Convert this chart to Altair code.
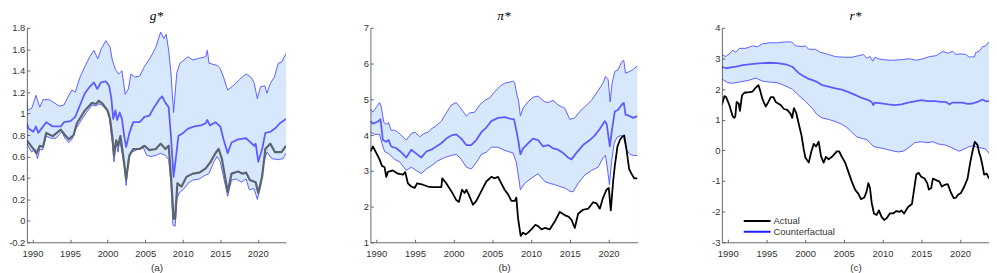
import altair as alt
import pandas as pd

XMIN, XMAX = 1989.25, 2023.75
YEAR_TICKS = [1990, 1995, 2000, 2005, 2010, 2015, 2020]

# ---------------- panel (a): g* ----------------
G_UP_X = [1989.25, 1989.34, 1989.90, 1990.46, 1990.97, 1991.40, 1992.26, 1993.55, 1994.19, 1994.83, 1995.26, 1995.69, 1996.33, 1996.98, 1997.62, 1998.18, 1998.69, 1999.12, 1999.77, 2000.32, 2000.62, 2001.05, 2001.48, 2001.91, 2002.34, 2002.77, 2003.11, 2003.63, 2004.27, 2004.91, 2005.77, 2006.42, 2007.06, 2007.49, 2007.79, 2008.13, 2008.43, 2008.78, 2009.21, 2009.63, 2010.71, 2011.35, 2012.42, 2013.06, 2013.28, 2013.49, 2014.57, 2015.00, 2015.43, 2015.98, 2016.71, 2017.57, 2018.43, 2019.07, 2019.50, 2019.93, 2020.36, 2020.92, 2021.22, 2021.65, 2022.20, 2022.72, 2023.15, 2023.75]
G_UP_Y = [1.13, 1.03, 1.05, 1.17, 1.06, 1.13, 1.13, 1.07, 1.08, 1.17, 1.22, 1.20, 1.34, 1.44, 1.53, 1.59, 1.51, 1.60, 1.68, 1.62, 1.50, 1.41, 1.37, 1.40, 1.18, 1.23, 1.37, 1.34, 1.35, 1.44, 1.53, 1.62, 1.76, 1.70, 1.74, 1.59, 1.38, 1.01, 1.38, 1.47, 1.53, 1.50, 1.52, 1.53, 1.59, 1.47, 1.45, 1.42, 1.34, 1.22, 1.26, 1.32, 1.37, 1.34, 1.29, 1.14, 1.25, 1.26, 1.19, 1.28, 1.34, 1.47, 1.48, 1.56]
G_MED_X = [1989.25, 1989.47, 1990.11, 1990.46, 1990.76, 1991.19, 1991.83, 1992.69, 1993.76, 1994.19, 1995.05, 1995.69, 1996.33, 1996.98, 1997.62, 1998.18, 1998.61, 1999.12, 1999.77, 2000.20, 2000.50, 2000.75, 2001.05, 2001.27, 2001.61, 2001.91, 2002.21, 2002.47, 2002.90, 2003.41, 2004.27, 2004.91, 2005.56, 2006.20, 2006.85, 2007.27, 2007.70, 2008.13, 2008.43, 2008.78, 2009.08, 2009.42, 2010.06, 2010.71, 2011.56, 2012.42, 2013.06, 2013.28, 2013.62, 2014.35, 2015.00, 2015.43, 2015.98, 2016.50, 2017.36, 2018.43, 2019.07, 2019.50, 2019.71, 2020.06, 2020.57, 2021.00, 2021.65, 2022.29, 2022.93, 2023.75]
G_MED_Y = [0.91, 0.86, 0.83, 0.88, 0.82, 0.86, 0.92, 0.88, 0.88, 0.92, 0.93, 0.97, 1.08, 1.19, 1.25, 1.29, 1.23, 1.29, 1.30, 1.26, 1.14, 0.95, 1.03, 0.94, 1.01, 0.95, 0.79, 0.69, 0.82, 0.92, 0.92, 0.97, 0.98, 1.06, 1.13, 1.16, 1.10, 1.06, 0.79, 0.41, 0.58, 0.79, 0.82, 0.86, 0.88, 0.89, 0.91, 0.94, 0.89, 0.92, 0.88, 0.76, 0.63, 0.73, 0.76, 0.77, 0.73, 0.70, 0.72, 0.55, 0.67, 0.82, 0.83, 0.86, 0.91, 0.95]
G_LO_X = [1989.25, 1989.47, 1989.90, 1990.33, 1990.67, 1990.97, 1991.32, 1991.83, 1992.47, 1993.12, 1993.89, 1994.32, 1994.83, 1995.26, 1995.69, 1996.33, 1997.19, 1997.92, 1998.48, 1998.82, 1999.21, 1999.77, 2000.20, 2000.50, 2000.71, 2000.84, 2001.14, 2001.40, 2001.61, 2001.91, 2002.21, 2002.47, 2002.77, 2003.20, 2003.84, 2004.70, 2005.21, 2005.77, 2006.42, 2007.06, 2007.70, 2008.13, 2008.47, 2008.69, 2008.99, 2009.21, 2009.51, 2010.06, 2010.71, 2011.35, 2012.21, 2012.85, 2013.49, 2014.14, 2014.57, 2015.00, 2015.43, 2015.98, 2016.50, 2017.14, 2017.79, 2018.43, 2018.86, 2019.50, 2019.93, 2020.36, 2020.79, 2021.22, 2021.86, 2022.72, 2023.36, 2023.75]
G_LO_Y = [0.72, 0.69, 0.64, 0.67, 0.58, 0.67, 0.66, 0.79, 0.77, 0.77, 0.83, 0.77, 0.73, 0.76, 0.85, 0.92, 1.01, 1.08, 1.07, 1.09, 1.08, 1.04, 1.00, 0.79, 0.70, 0.55, 0.72, 0.64, 0.76, 0.64, 0.52, 0.33, 0.58, 0.64, 0.66, 0.69, 0.61, 0.60, 0.61, 0.63, 0.61, 0.57, 0.32, -0.04, -0.05, 0.20, 0.26, 0.29, 0.35, 0.38, 0.39, 0.42, 0.44, 0.55, 0.60, 0.55, 0.41, 0.23, 0.38, 0.39, 0.36, 0.39, 0.29, 0.30, 0.20, 0.32, 0.55, 0.64, 0.58, 0.57, 0.58, 0.63]
G_ACT_X = [1989.25, 1989.90, 1990.54, 1990.97, 1991.40, 1991.83, 1992.69, 1993.76, 1994.32, 1994.83, 1995.48, 1995.91, 1996.98, 1997.92, 1998.48, 1998.82, 1999.34, 1999.98, 2000.32, 2000.62, 2000.84, 2001.14, 2001.40, 2001.70, 2001.95, 2002.47, 2002.90, 2003.41, 2004.27, 2004.91, 2005.56, 2006.42, 2007.06, 2007.70, 2008.13, 2008.47, 2008.78, 2008.99, 2009.29, 2009.85, 2010.49, 2011.35, 2012.21, 2013.06, 2013.71, 2014.35, 2014.78, 2015.21, 2015.98, 2016.50, 2017.36, 2017.99, 2018.43, 2018.94, 2019.71, 2020.06, 2020.57, 2021.00, 2021.65, 2022.29, 2023.15, 2023.75]
G_ACT_Y = [0.75, 0.69, 0.63, 0.70, 0.69, 0.82, 0.79, 0.85, 0.80, 0.76, 0.80, 0.91, 1.03, 1.10, 1.09, 1.12, 1.09, 1.03, 0.95, 0.79, 0.61, 0.75, 0.70, 0.79, 0.67, 0.39, 0.61, 0.67, 0.67, 0.70, 0.66, 0.67, 0.72, 0.67, 0.70, 0.38, 0.02, 0.02, 0.35, 0.32, 0.41, 0.44, 0.45, 0.49, 0.55, 0.63, 0.67, 0.58, 0.27, 0.44, 0.46, 0.44, 0.45, 0.38, 0.36, 0.26, 0.41, 0.67, 0.72, 0.64, 0.64, 0.70]

# ---------------- panel (b): pi* ----------------
P_UP_X = [1989.25, 1989.57, 1990.22, 1990.43, 1990.65, 1990.99, 1991.29, 1991.59, 1991.94, 1992.37, 1993.02, 1993.45, 1993.88, 1994.53, 1995.04, 1995.60, 1996.16, 1996.68, 1997.11, 1997.76, 1998.41, 1999.05, 1999.70, 2000.34, 2000.78, 2001.21, 2001.64, 2002.07, 2002.72, 2003.36, 2004.01, 2004.66, 2005.30, 2005.95, 2006.59, 2007.24, 2007.67, 2007.89, 2008.10, 2008.41, 2008.62, 2008.97, 2009.61, 2010.26, 2010.91, 2011.77, 2012.20, 2012.84, 2013.49, 2014.35, 2015.00, 2015.65, 2016.29, 2016.94, 2017.80, 2018.66, 2019.31, 2019.61, 2019.96, 2020.22, 2020.47, 2020.82, 2021.25, 2021.68, 2021.98, 2022.20, 2022.76, 2023.19, 2023.75]
P_UP_Y = [4.73, 4.64, 4.84, 4.91, 4.79, 4.35, 4.30, 4.35, 4.13, 4.14, 4.04, 3.95, 3.86, 4.04, 4.08, 3.95, 4.04, 4.08, 4.17, 4.26, 4.39, 4.62, 4.84, 4.91, 4.79, 4.66, 4.53, 4.62, 4.64, 4.84, 4.97, 5.04, 5.21, 5.36, 5.45, 5.48, 5.51, 5.46, 5.20, 4.93, 4.53, 4.75, 4.93, 5.06, 5.09, 4.93, 4.91, 4.97, 4.84, 4.75, 4.44, 4.48, 4.66, 4.79, 4.97, 5.24, 5.46, 5.64, 5.55, 4.93, 5.46, 5.78, 5.82, 6.04, 6.09, 5.73, 5.78, 5.84, 5.93]
P_MED_X = [1989.25, 1989.57, 1990.22, 1990.56, 1990.86, 1991.29, 1991.59, 1991.94, 1992.59, 1993.23, 1993.88, 1994.53, 1995.17, 1995.82, 1996.47, 1997.11, 1997.76, 1998.41, 1999.05, 1999.70, 2000.34, 2000.99, 2001.64, 2002.28, 2002.93, 2003.58, 2004.22, 2004.87, 2005.73, 2006.59, 2007.24, 2007.80, 2008.10, 2008.41, 2008.62, 2008.97, 2009.61, 2010.26, 2010.91, 2011.55, 2012.20, 2012.84, 2013.49, 2014.14, 2014.78, 2015.22, 2015.86, 2016.72, 2017.59, 2018.23, 2018.88, 2019.53, 2019.78, 2020.17, 2020.47, 2020.82, 2021.25, 2021.68, 2021.98, 2022.20, 2022.76, 2023.19, 2023.75]
P_MED_Y = [4.39, 4.32, 4.38, 4.44, 3.86, 3.81, 3.86, 3.68, 3.63, 3.52, 3.37, 3.59, 3.48, 3.37, 3.54, 3.59, 3.68, 3.77, 3.90, 3.99, 4.02, 3.90, 3.72, 3.72, 3.86, 4.08, 4.21, 4.39, 4.48, 4.50, 4.46, 4.44, 4.13, 3.77, 3.46, 3.63, 3.77, 3.90, 3.86, 3.68, 3.72, 3.63, 3.59, 3.50, 3.37, 3.32, 3.50, 3.72, 3.86, 3.99, 4.17, 4.39, 4.30, 3.68, 4.17, 4.66, 4.71, 4.84, 4.90, 4.57, 4.53, 4.48, 4.53]
P_LO_X = [1989.25, 1989.78, 1990.43, 1990.73, 1991.08, 1991.72, 1992.37, 1993.02, 1993.88, 1994.53, 1995.17, 1995.82, 1996.47, 1997.11, 1997.97, 1998.84, 1999.70, 2000.34, 2000.99, 2001.64, 2002.28, 2002.93, 2003.58, 2004.22, 2004.87, 2005.73, 2006.38, 2007.03, 2007.67, 2008.10, 2008.41, 2008.62, 2009.18, 2010.04, 2010.91, 2011.77, 2012.41, 2013.06, 2013.71, 2014.35, 2015.00, 2015.43, 2016.08, 2016.94, 2017.80, 2018.66, 2019.31, 2019.61, 2019.87, 2020.13, 2020.39, 2020.73, 2021.16, 2021.68, 2021.98, 2022.33, 2022.76, 2023.19, 2023.75]
P_LO_Y = [4.08, 4.02, 4.02, 3.77, 3.54, 3.46, 3.32, 3.25, 3.01, 3.10, 3.01, 2.92, 3.05, 3.14, 3.28, 3.37, 3.43, 3.46, 3.32, 3.10, 3.05, 3.23, 3.46, 3.52, 3.66, 3.66, 3.59, 3.54, 3.50, 3.23, 2.79, 2.47, 2.65, 2.79, 2.92, 2.70, 2.65, 2.61, 2.56, 2.52, 2.43, 2.41, 2.65, 2.88, 3.01, 3.10, 3.37, 3.43, 3.05, 2.61, 3.23, 3.77, 3.95, 3.99, 3.90, 3.59, 3.46, 3.43, 3.43]
P_ACT_X = [1989.25, 1989.57, 1990.00, 1990.43, 1990.73, 1991.08, 1991.29, 1991.51, 1992.16, 1992.80, 1993.45, 1993.75, 1994.09, 1994.53, 1994.96, 1995.30, 1996.03, 1996.68, 1997.33, 1998.41, 1998.53, 1999.05, 1999.70, 2000.34, 2000.69, 2001.08, 2001.42, 2001.64, 2001.94, 2002.50, 2002.93, 2003.58, 2004.22, 2004.87, 2005.30, 2005.73, 2006.16, 2006.59, 2007.03, 2007.46, 2007.89, 2008.10, 2008.32, 2008.66, 2008.97, 2009.31, 2009.61, 2010.04, 2010.56, 2010.91, 2011.34, 2011.77, 2012.41, 2013.06, 2013.71, 2014.35, 2014.87, 2015.22, 2015.65, 2016.08, 2016.72, 2017.37, 2018.02, 2018.45, 2018.88, 2019.31, 2019.74, 2020.04, 2020.30, 2020.60, 2020.82, 2021.16, 2021.47, 2021.77, 2022.03, 2022.33, 2022.67, 2022.97, 2023.32, 2023.75]
P_ACT_Y = [3.54, 3.68, 3.50, 3.32, 3.14, 3.10, 2.83, 2.97, 3.01, 2.92, 2.89, 2.96, 2.65, 2.56, 2.52, 2.65, 2.61, 2.56, 2.54, 2.54, 2.79, 2.65, 2.43, 2.18, 2.13, 2.47, 2.38, 2.47, 2.34, 2.05, 2.16, 2.43, 2.70, 2.83, 2.79, 2.83, 2.65, 2.47, 2.34, 2.16, 2.16, 2.25, 1.67, 1.18, 1.27, 1.22, 1.27, 1.36, 1.49, 1.45, 1.36, 1.40, 1.36, 1.58, 1.85, 1.76, 1.71, 1.63, 1.40, 1.80, 1.91, 1.94, 2.12, 2.09, 1.94, 2.25, 2.47, 2.52, 1.89, 2.70, 3.14, 3.68, 3.86, 3.95, 3.99, 3.59, 3.05, 2.92, 2.79, 2.79]

# ---------------- panel (c): r* ----------------
R_UP_X = [1989.25, 1989.70, 1990.21, 1990.64, 1991.07, 1991.50, 1992.35, 1993.21, 1993.85, 1994.49, 1995.34, 1996.41, 1997.48, 1998.25, 1998.76, 1999.62, 2000.04, 2000.47, 2001.32, 2001.97, 2003.03, 2003.89, 2004.96, 2006.03, 2006.88, 2007.52, 2007.95, 2008.38, 2008.72, 2009.02, 2009.44, 2010.09, 2011.15, 2012.44, 2013.50, 2014.36, 2015.21, 2016.07, 2016.92, 2017.78, 2018.42, 2019.06, 2019.49, 2020.13, 2020.77, 2021.20, 2021.50, 2021.84, 2022.05, 2022.48, 2022.91, 2023.33, 2023.75]
R_UP_Y = [3.13, 3.06, 3.15, 3.27, 3.20, 3.33, 3.33, 3.41, 3.38, 3.48, 3.51, 3.51, 3.54, 3.54, 3.41, 3.39, 3.41, 3.30, 3.30, 3.20, 3.13, 3.06, 3.04, 3.04, 3.09, 3.13, 3.01, 3.06, 2.91, 3.04, 2.99, 2.96, 2.94, 2.96, 2.99, 2.94, 2.99, 3.06, 3.09, 3.23, 3.17, 3.23, 3.13, 3.15, 3.13, 3.04, 3.06, 3.04, 3.20, 3.23, 3.38, 3.41, 3.54]
R_MED_X = [1989.25, 1989.79, 1990.43, 1991.07, 1991.92, 1992.78, 1993.63, 1994.49, 1995.34, 1996.41, 1997.48, 1998.33, 1999.19, 1999.83, 2000.47, 2001.32, 2002.18, 2003.03, 2003.89, 2004.74, 2005.60, 2006.45, 2007.31, 2008.16, 2008.59, 2008.80, 2009.02, 2009.87, 2010.73, 2011.58, 2012.44, 2013.29, 2014.15, 2015.00, 2015.85, 2016.71, 2017.56, 2018.21, 2018.63, 2019.06, 2019.70, 2020.34, 2020.98, 2021.62, 2022.26, 2022.91, 2023.33, 2023.75]
R_MED_Y = [2.73, 2.68, 2.71, 2.73, 2.78, 2.81, 2.83, 2.85, 2.86, 2.85, 2.81, 2.73, 2.52, 2.42, 2.33, 2.26, 2.13, 2.08, 2.02, 1.98, 1.90, 1.81, 1.71, 1.64, 1.58, 1.48, 1.56, 1.53, 1.50, 1.48, 1.50, 1.56, 1.60, 1.64, 1.61, 1.61, 1.58, 1.58, 1.50, 1.56, 1.56, 1.56, 1.52, 1.53, 1.58, 1.66, 1.60, 1.61]
R_LO_X = [1989.25, 1990.00, 1990.64, 1991.50, 1992.78, 1993.63, 1994.49, 1995.34, 1996.41, 1997.48, 1998.33, 1999.19, 2000.04, 2000.90, 2001.54, 2002.18, 2003.03, 2003.89, 2004.74, 2005.38, 2006.03, 2006.67, 2007.31, 2007.95, 2008.38, 2008.80, 2009.44, 2010.30, 2011.15, 2012.01, 2012.65, 2013.29, 2014.15, 2015.00, 2015.85, 2016.50, 2017.14, 2017.99, 2018.85, 2019.49, 2019.91, 2020.34, 2020.98, 2021.62, 2022.26, 2022.91, 2023.33, 2023.75]
R_LO_Y = [2.33, 2.21, 2.19, 2.23, 2.29, 2.36, 2.26, 2.23, 2.21, 2.10, 2.00, 1.79, 1.60, 1.38, 1.17, 1.06, 1.01, 0.94, 0.85, 0.75, 0.59, 0.44, 0.39, 0.35, 0.25, 0.13, 0.09, 0.05, -0.01, -0.05, -0.03, 0.07, 0.25, 0.28, 0.25, 0.28, 0.21, 0.18, 0.10, 0.02, -0.03, 0.02, 0.10, 0.15, 0.10, 0.07, 0.04, -0.10]
R_ACT_X = [1989.25, 1989.57, 1989.79, 1990.21, 1990.64, 1990.85, 1990.98, 1991.15, 1991.41, 1991.58, 1991.84, 1992.14, 1992.78, 1993.21, 1993.63, 1993.97, 1994.19, 1994.49, 1994.91, 1995.26, 1995.56, 1995.90, 1996.20, 1996.84, 1997.26, 1997.69, 1998.12, 1998.33, 1998.55, 1998.85, 1999.19, 1999.53, 1999.83, 2000.04, 2000.47, 2000.81, 2001.11, 2001.41, 2001.75, 2002.05, 2002.39, 2002.69, 2003.03, 2003.46, 2004.10, 2004.40, 2004.74, 2005.17, 2005.60, 2006.03, 2006.45, 2006.88, 2007.22, 2007.65, 2007.95, 2008.16, 2008.38, 2008.59, 2008.89, 2009.23, 2009.53, 2009.87, 2010.21, 2010.51, 2010.94, 2011.37, 2011.79, 2012.22, 2012.44, 2012.78, 2013.29, 2013.80, 2014.36, 2014.66, 2015.00, 2015.43, 2015.77, 2015.98, 2016.28, 2016.50, 2016.92, 2017.35, 2017.65, 2017.99, 2018.42, 2018.85, 2019.19, 2019.49, 2019.79, 2020.13, 2020.56, 2020.98, 2021.32, 2021.62, 2021.92, 2022.26, 2022.48, 2022.69, 2022.91, 2023.12, 2023.46, 2023.75]
R_ACT_Y = [1.48, 1.77, 1.74, 1.48, 1.11, 1.06, 1.11, 1.58, 1.53, 1.29, 1.79, 1.88, 1.90, 1.92, 2.05, 2.13, 1.95, 1.67, 1.43, 1.58, 1.74, 1.74, 1.58, 1.48, 1.35, 1.32, 1.19, 1.06, 1.38, 1.22, 0.85, 0.49, 0.02, -0.24, -0.40, -0.03, 0.21, 0.13, 0.28, -0.19, -0.40, -0.21, -0.29, -0.21, -0.03, -0.03, -0.21, -0.40, -0.71, -1.02, -1.28, -1.42, -1.59, -1.54, -1.33, -1.07, -1.23, -1.70, -2.06, -2.11, -1.96, -2.17, -2.27, -2.22, -2.06, -2.06, -1.98, -2.01, -1.96, -2.06, -1.85, -1.75, -0.79, -0.73, -0.86, -0.92, -1.07, -1.28, -1.23, -0.92, -0.97, -1.02, -1.18, -1.13, -1.10, -1.39, -1.56, -1.54, -1.44, -1.39, -1.18, -0.92, -0.40, -0.03, 0.28, 0.18, -0.08, -0.24, -0.50, -0.79, -0.76, -0.92]

LEGEND_LABELS = ["Actual", "Counterfactual"]

# ---------------- styling ----------------
H = 216
FONT = "Liberation Sans"
TXT = "#333333"
AXC = "#444444"
FILL = "#d8e8fc"
EDGE = "#4f4fff"
MED = "#5c5cff"


def df(xs, ys, label=None):
    d = pd.DataFrame({"year": xs, "v": ys})
    if label is not None:
        d["s"] = label
    return d


def panel(title, sub, ylo, yhi, yvals, up, med, lo, act, act_color, act_width, W, legend=False):
    xsc = alt.Scale(domain=[XMIN, XMAX], nice=False, zero=False)
    ysc = alt.Scale(domain=[ylo, yhi], nice=False, zero=False)

    main_x = alt.Axis(orient="bottom", values=YEAR_TICKS, format="d", ticks=False,
                      labelPadding=6, labelFont=FONT, labelFontSize=9.5, labelColor=TXT,
                      labelFlush=False, domainColor=AXC, domainWidth=0.8, grid=False,
                      title=sub, titleFont=FONT, titleFontSize=10, titleFontWeight="normal",
                      titleColor=TXT, titlePadding=5, zindex=2)
    main_y = alt.Axis(orient="left", values=yvals, format="~g",
                      labelExpr="replace(datum.label, '\u2212', '-')",
                      ticks=False, labelPadding=2, labelFont=FONT, labelFontSize=9.5,
                      labelColor=TXT, labelFlush=False, domainColor=AXC, domainWidth=0.8,
                      grid=False, title=None, zindex=2)
    tick_x = alt.Axis(orient="top", offset=-H, values=YEAR_TICKS, labels=False, domain=False,
                      ticks=True, tickSize=3, tickColor=AXC, tickWidth=0.8, grid=False,
                      title=None, minExtent=0, maxExtent=0, zindex=2)
    tick_y = alt.Axis(orient="right", offset=-W, values=yvals, labels=False, domain=False,
                      ticks=True, tickSize=3, tickColor=AXC, tickWidth=0.8, grid=False,
                      title=None, minExtent=0, maxExtent=0, zindex=2)

    band = alt.Chart(df(*up)).mark_area(color=FILL, clip=True).encode(
        x=alt.X("year:Q", scale=xsc, axis=main_x),
        y=alt.Y("v:Q", scale=ysc, axis=main_y),
        y2=alt.datum(ylo),
    )
    mask = alt.Chart(df(*lo)).mark_area(color="white", clip=True).encode(
        x=alt.X("year:Q", scale=xsc, axis=tick_x),
        y=alt.Y("v:Q", scale=ysc, axis=tick_y),
        y2=alt.datum(ylo),
    )

    def line(data, color, width):
        return alt.Chart(data).mark_line(color=color, strokeWidth=width, clip=True,
                                         strokeJoin="round").encode(
            x=alt.X("year:Q", scale=xsc, axis=None),
            y=alt.Y("v:Q", scale=ysc, axis=None),
        )

    up_l = line(df(*up), EDGE, 0.9)
    lo_l = line(df(*lo), EDGE, 0.9)
    med_l = line(df(*med), MED, 1.8)
    if legend:
        act_l = alt.Chart(df(*act, label=LEGEND_LABELS[0])).mark_line(
            strokeWidth=act_width, clip=True, strokeJoin="round").encode(
            x=alt.X("year:Q", scale=xsc, axis=None),
            y=alt.Y("v:Q", scale=ysc, axis=None),
            color=alt.Color("s:N", scale=alt.Scale(domain=LEGEND_LABELS,
                                                   range=["#000000", "#1f1fff"]),
                            legend=alt.Legend(orient="none", legendX=21, legendY=189,
                                              title=None, symbolType="stroke",
                                              symbolSize=729, symbolStrokeWidth=2,
                                              labelFont=FONT, labelFontSize=9.5,
                                              labelColor=TXT, clipHeight=11,
                                              rowPadding=0, padding=0, labelOffset=2)),
        )
    else:
        act_l = line(df(*act), act_color, act_width)

    return alt.layer(band, mask, up_l, lo_l, med_l, act_l).resolve_axis(
        x="independent", y="independent"
    ).properties(
        width=W, height=H,
        title=alt.TitleParams(text=title, font="Liberation Serif", fontStyle="italic",
                              fontSize=13.5, fontWeight="normal", color="#000000",
                              offset=0, anchor="middle"),
    )


p1 = panel("g*", "(a)", -0.2, 1.8, [round(-0.2 + 0.2 * i, 1) for i in range(11)],
           (G_UP_X, G_UP_Y), (G_MED_X, G_MED_Y), (G_LO_X, G_LO_Y), (G_ACT_X, G_ACT_Y),
           "#5b6570", 2.2, 261)
p2 = panel("\u03c0*", "(b)", 1, 7, list(range(1, 8)),
           (P_UP_X, P_UP_Y), (P_MED_X, P_MED_Y), (P_LO_X, P_LO_Y), (P_ACT_X, P_ACT_Y),
           "#000000", 1.8, 269)
p3 = panel("r*", "(c)", -3, 4, list(range(-3, 5)),
           (R_UP_X, R_UP_Y), (R_MED_X, R_MED_Y), (R_LO_X, R_LO_Y), (R_ACT_X, R_ACT_Y),
           "#000000", 1.8, 269, legend=True)

chart = alt.hconcat(p1, p2, p3, spacing=85, bounds="flush").resolve_scale(
    color="independent"
).properties(
    padding={"left": 0, "top": 0, "right": 0, "bottom": 0}
).configure_view(stroke=None)

chart.save("out.html", embed_options={"renderer": "svg", "actions": False})
